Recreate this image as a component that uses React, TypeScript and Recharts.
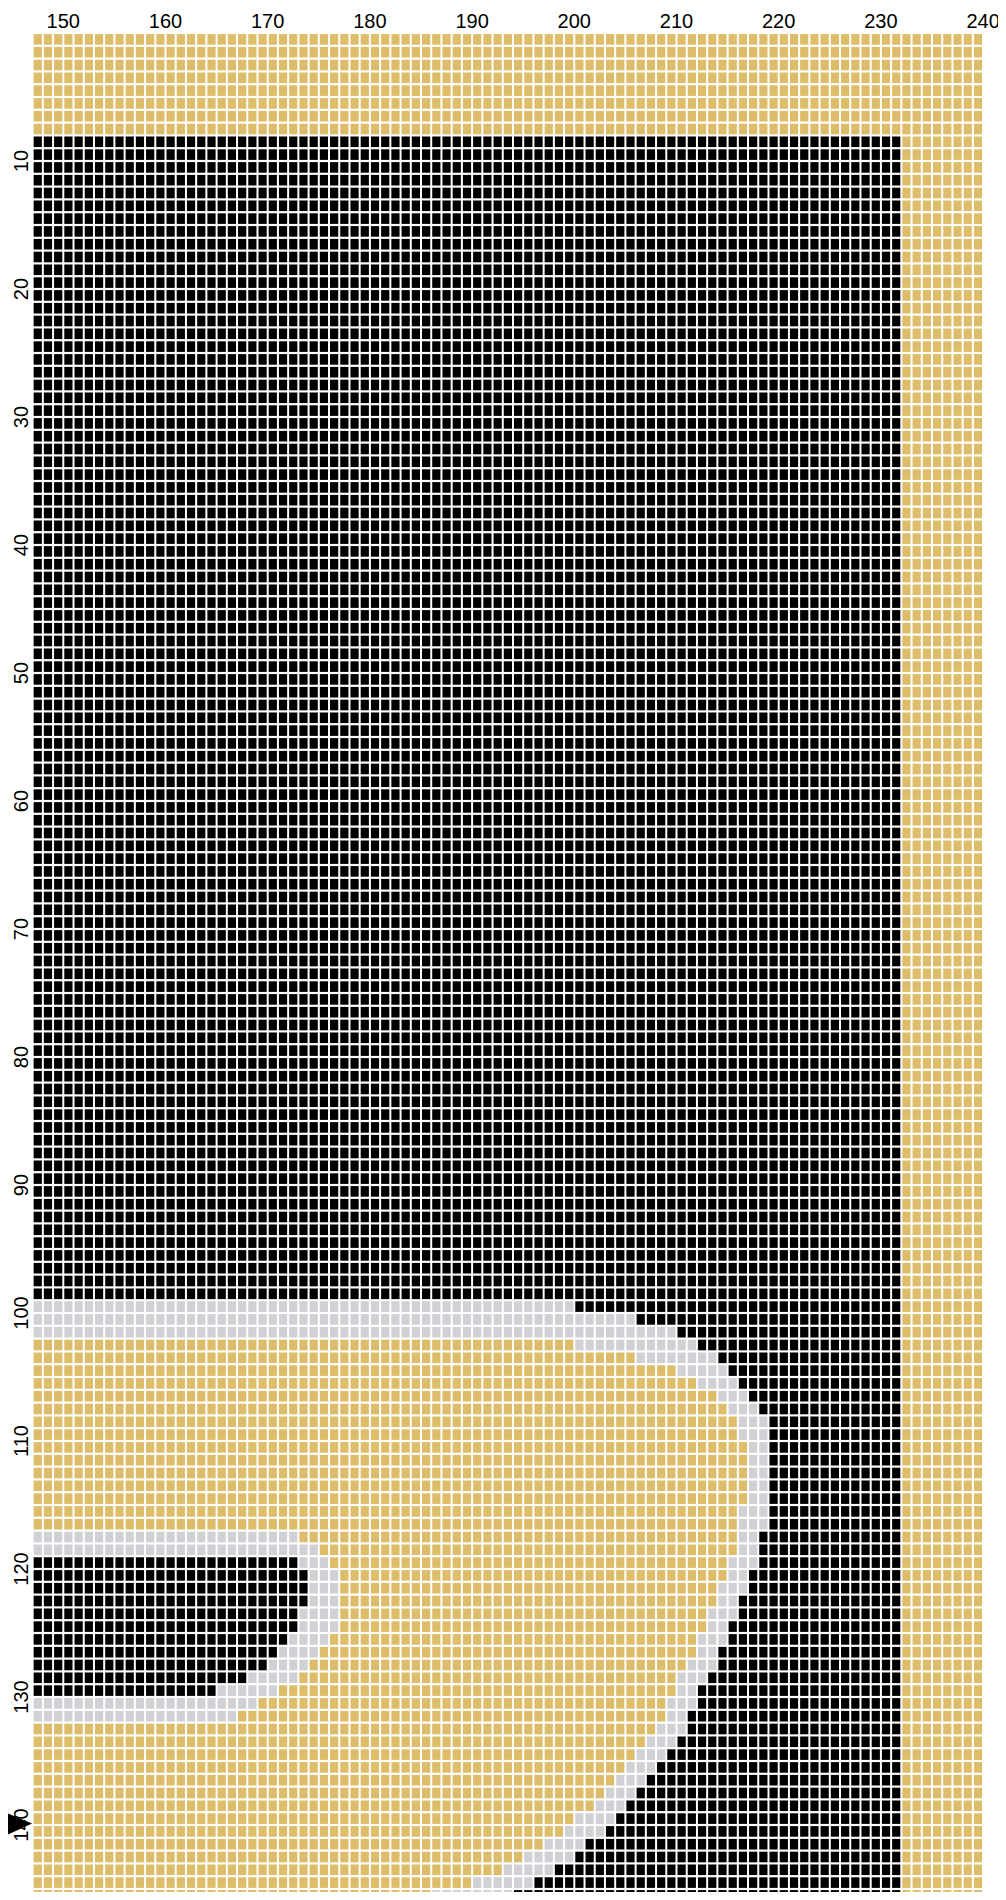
import { ScatterChart, Scatter, XAxis, YAxis } from 'recharts'

// pixel grid: columns 147..239, rows 0..145 (rows grow downward)
const X_TICKS = [150, 160, 170, 180, 190, 200, 210, 220, 230, 240]
const Y_TICKS = [10, 20, 30, 40, 50, 60, 70, 80, 90, 100, 110, 120, 130, 140]
const FIRST_COL = 147
const LAST_COL = 240
const Y_MAX = 148

// [fromRow, toRow, runs]; each run = colour letter + last column it covers
const BANDS: [number, number, string][] = [
  [0, 7, 'G239'],
  [8, 98, 'B231 G239'],
  [99, 99, 'S199 B231 G239'],
  [100, 100, 'S205 B231 G239'],
  [101, 101, 'S209 B231 G239'],
  [102, 102, 'G199 S211 B231 G239'],
  [103, 103, 'G205 S213 B231 G239'],
  [104, 104, 'G209 S214 B231 G239'],
  [105, 105, 'G211 S215 B231 G239'],
  [106, 106, 'G213 S216 B231 G239'],
  [107, 107, 'G214 S217 B231 G239'],
  [108, 109, 'G215 S218 B231 G239'],
  [110, 114, 'G216 S218 B231 G239'],
  [115, 116, 'G215 S218 B231 G239'],
  [117, 117, 'S172 G215 S217 B231 G239'],
  [118, 118, 'S174 G215 S217 B231 G239'],
  [119, 119, 'B172 S175 G214 S217 B231 G239'],
  [120, 120, 'B173 S176 G214 S216 B231 G239'],
  [121, 121, 'B173 S176 G213 S216 B231 G239'],
  [122, 122, 'B173 S176 G213 S215 B231 G239'],
  [123, 123, 'B172 S176 G212 S215 B231 G239'],
  [124, 124, 'B172 S176 G212 S214 B231 G239'],
  [125, 125, 'B171 S175 G211 S214 B231 G239'],
  [126, 126, 'B170 S174 G211 S213 B231 G239'],
  [127, 127, 'B169 S173 G210 S213 B231 G239'],
  [128, 128, 'B167 S172 G209 S212 B231 G239'],
  [129, 129, 'B164 S170 G209 S211 B231 G239'],
  [130, 130, 'S168 G208 S211 B231 G239'],
  [131, 131, 'S166 G208 S210 B231 G239'],
  [132, 132, 'G207 S210 B231 G239'],
  [133, 133, 'G206 S209 B231 G239'],
  [134, 134, 'G205 S208 B231 G239'],
  [135, 135, 'G204 S207 B231 G239'],
  [136, 136, 'G203 S206 B231 G239'],
  [137, 137, 'G202 S205 B231 G239'],
  [138, 138, 'G201 S204 B231 G239'],
  [139, 139, 'G199 S203 B231 G239'],
  [140, 140, 'G198 S202 B231 G239'],
  [141, 141, 'G196 S200 B231 G239'],
  [142, 142, 'G194 S199 B231 G239'],
  [143, 143, 'G192 S197 B231 G239'],
  [144, 144, 'G189 S195 B231 G239'],
  [145, 145, 'G185 S193 B231 G239'],
]

const COLORS: Record<string, string> = { G: '#DDBD69', B: '#000000', S: '#CFD1D4' }

type Pt = { x: number; y: number }

function buildCells() {
  const out: Record<string, Pt[]> = { G: [], B: [], S: [] }
  for (const [from, to, runs] of BANDS) {
    for (let row = from; row <= to; row++) {
      let col = FIRST_COL
      for (const run of runs.split(' ')) {
        const key = run[0]
        const end = Number(run.slice(1))
        for (; col <= end; col++) out[key].push({ x: col + 0.5, y: row + 0.5 })
      }
    }
  }
  return out
}

const cells = buildCells()

// layout
const W = 998
const H = 1930
const PLOT_LEFT = 24.64
const PLOT_TOP = 25
const PLOT_W = 950.46
const PLOT_H = Y_MAX * 12.8
const CELL_W = PLOT_W / (LAST_COL - FIRST_COL) - 2
const CELL_H = PLOT_H / Y_MAX - 2.2
const LABEL_BASE = 20.3
const FONT = '"Liberation Sans", Arial, sans-serif'

const Tile = (props: any) => {
  const { cx, cy, fill } = props
  if (cx == null || cy == null) return null
  return <rect x={cx - CELL_W / 2} y={cy - CELL_H / 2} width={CELL_W} height={CELL_H} fill={fill} />
}

const XTick = ({ x, payload }: any) => (
  <text x={x} y={LABEL_BASE} textAnchor="middle" fontSize={20} fontFamily={FONT} fill="#000">
    {payload.value}
  </text>
)

const YTick = ({ y, payload }: any) => (
  <g>
    <text
      x={LABEL_BASE}
      y={y}
      transform={`rotate(-90 ${LABEL_BASE} ${y})`}
      textAnchor="middle"
      fontSize={20}
      fontFamily={FONT}
      fill="#000"
    >
      {payload.value}
    </text>
    {payload.value === 140 && (
      <polygon points={`-1,${y - 12} -1,${y + 10} 24,${y - 1.5}`} fill="#000" />
    )}
  </g>
)

export default function App() {
  return (
    <div style={{ width: W, height: 1892, overflow: 'hidden', marginBottom: -8, background: '#fff' }}>
      <ScatterChart
        width={W}
        height={H}
        margin={{ top: 0, right: W - PLOT_LEFT - PLOT_W, left: 0, bottom: H - PLOT_TOP - PLOT_H }}
      >
        <XAxis
          type="number"
          dataKey="x"
          orientation="top"
          domain={[FIRST_COL, LAST_COL]}
          ticks={X_TICKS}
          height={PLOT_TOP}
          axisLine={false}
          tickLine={false}
          tick={<XTick />}
          interval={0}
        />
        <YAxis
          type="number"
          dataKey="y"
          domain={[0, Y_MAX]}
          reversed
          ticks={Y_TICKS}
          width={PLOT_LEFT}
          axisLine={false}
          tickLine={false}
          tick={<YTick />}
          interval={0}
        />
        {(['G', 'B', 'S'] as const).map((k) => (
          <Scatter
            key={k}
            data={cells[k]}
            fill={COLORS[k]}
            shape={<Tile />}
            isAnimationActive={false}
          />
        ))}
      </ScatterChart>
    </div>
  )
}
